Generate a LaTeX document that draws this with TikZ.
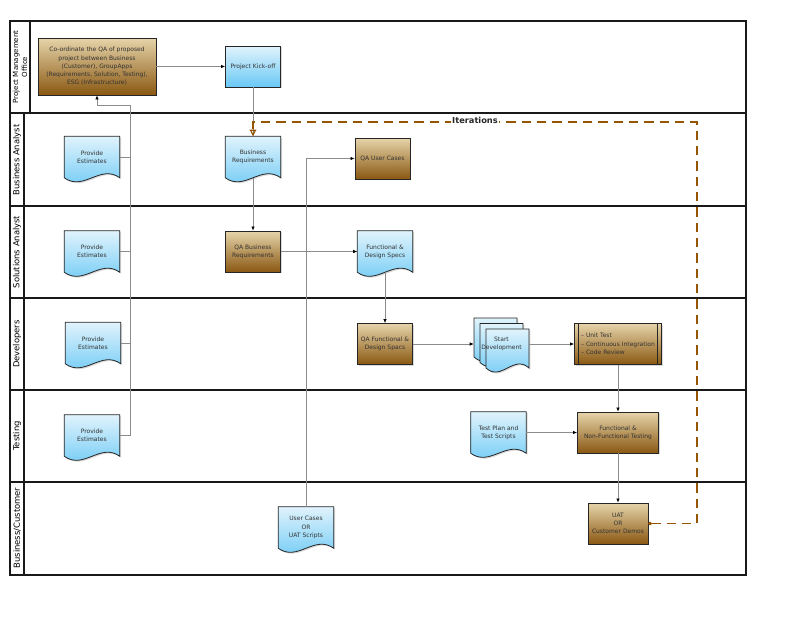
\documentclass[tikz,border=0pt]{standalone}
\usepackage{fontspec}
\setmainfont{DejaVu Sans}
\usepackage{tikz}
\usetikzlibrary{calc,arrows.meta,shadows,backgrounds}
\definecolor{bluetop}{RGB}{224,243,252}
\definecolor{bluebot}{RGB}{105,200,245}
\definecolor{browntop}{RGB}{230,212,170}
\definecolor{brownbot}{RGB}{138,88,18}
\definecolor{iterbrown}{RGB}{150,85,0}
\definecolor{linkc}{RGB}{140,140,140}
\newcommand\docpath[2]{(#1) -- (#1 -| #2) -- (#2)
  .. controls ($(#2)!0.35!(#2 -| #1)+(0,-14)$) and ($(#2)!0.65!(#2 -| #1)+(0,14)$) .. (#2 -| #1) -- cycle}
\tikzset{
  lane/.style={line width=0.9pt,black!90},
  lanelbl/.style={rotate=90,font=\fontsize{6.3}{7.4}\selectfont,align=center,inner sep=0pt},
  txt/.style={font=\fontsize{4.5}{6.2}\selectfont,align=center,inner sep=0pt,text=black!80},
  shade/.style={drop shadow={shadow xshift=1pt,shadow yshift=-1pt,opacity=0.3}},
  task/.style={txt,rectangle,draw=black!85,line width=0.6pt,minimum width=41.25pt,minimum height=30.75pt,
    top color=browntop,bottom color=brownbot,shade},
  bluebox/.style={task,top color=bluetop,bottom color=bluebot},
  doc/.style={txt,rectangle,minimum width=41.25pt,minimum height=30.75pt},
  docfill/.style={draw=black!85,line width=0.6pt,top color=bluetop,bottom color=bluebot,shade},
  link/.style={linkc,line width=0.5pt},
  flow/.style={link,-{Latex[length=3pt,width=2.6pt,black]}},
  iter/.style={iterbrown,line width=0.9pt,dash pattern=on 7pt off 4.5pt,
    {Circle[open,length=2.6pt,width=2.6pt,fill=white]}-{Triangle[open,length=5pt,width=5pt]}},
}

\begin{document}
\begin{tikzpicture}[x=0.75pt,y=-0.75pt]
  \useasboundingbox (0,0) rectangle (800,629);
  \draw[lane] (10,21) rectangle (746,575);
  \foreach \y in {113,206,298,390,482} \draw[lane] (10,\y) -- (746,\y);
  \draw[lane] (30,21) -- (30,113);
  \draw[lane] (24,113) -- (24,575);
  \node[lanelbl,font=\fontsize{5.3}{6.6}\selectfont] (lblPMO) at (20,67) {Project Management\\Office};
  \node[lanelbl] (lblBA) at (17,160) {Business Analyst};
  \node[lanelbl] (lblSA) at (17,252) {Solutions Analyst};
  \node[lanelbl] (lblDev) at (17,344) {Developers};
  \node[lanelbl] (lblTest) at (17,436) {Testing};
  \node[lanelbl] (lblCust) at (17,528) {Business/Customer};

  \node[task,minimum width=88.5pt,minimum height=42.75pt] (coord) at (97,66.5)
    {Co-ordinate the QA of proposed\\project between Business\\(Customer), GroupApps\\(Requirements, Solution, Testing),\\ESG (Infrastructure)};
  \node[bluebox] (kick) at (253,66.5) {Project Kick-off};
  \node[doc] (peBA) at (92,157) {Provide\\Estimates};
  \node[doc] (br) at (253,157) {Business\\Requirements};
  \node[task] (qauc) at (382.5,158.5) {QA User Cases};
  \node[doc] (peSA) at (92,251.5) {Provide\\Estimates};
  \node[task] (qabr) at (253,251.5) {QA Business\\Requirements};
  \node[doc] (fds) at (385,251.5) {Functional \&\\Design Specs};
  \node[doc] (peDev) at (93,343) {Provide\\Estimates};
  \node[task] (qafds) at (385,344) {QA Functional \&\\Design Spacs};
  \node[doc,minimum height=39pt] (sdev) at (501.5,344) {Start\\Development};
  \node[task,minimum width=65.25pt,align=left] (unit) at (618,344) {-- Unit Test\\-- Continuous Integration\\-- Code Review};
  \draw[black!85,line width=0.6pt] ($(unit.north west)+(4.5,0)$) -- ($(unit.south west)+(4.5,0)$)
    ($(unit.north east)+(-5,0)$) -- ($(unit.south east)+(-5,0)$);
  \node[doc] (peT) at (92,435.5) {Provide\\Estimates};
  \node[doc] (tp) at (498.5,432.5) {Test Plan and\\Test Scripts};
  \node[task,minimum width=60.75pt] (fnft) at (618,432.5) {Functional \&\\Non-Functional Testing};
  \node[doc] (uat) at (306,527.5) {User Cases\\OR\\UAT Scripts};
  \node[task,minimum width=45pt] (demo) at (618,523.5) {UAT\\OR\\Customer Demos};

  \coordinate (sdA1) at (474,318); \coordinate (sdA2) at (517,357);
  \coordinate (sdB1) at (480,323.5); \coordinate (sdB2) at (523,362.5);
  \coordinate (sdC1) at (486,329); \coordinate (sdC2) at (529,368);
  \coordinate (jn) at (130,105);
  \coordinate (itercorner) at (697,122);

  \begin{pgfonlayer}{background}
    \foreach \n in {peBA,br,peSA,fds,peDev,peT,tp,uat}
      \path[docfill] \docpath{\n.north west}{\n.south east};
    \path[docfill] \docpath{sdA1}{sdA2};
    \path[docfill] \docpath{sdB1}{sdB2};
    \path[docfill] \docpath{sdC1}{sdC2};
  \end{pgfonlayer}

  \draw[flow] (coord) -- (kick);
  \draw[link] (kick) -- (br);
  \draw[flow] (br) -- (qabr);
  \draw[flow] (qabr) -- (fds);
  \draw[flow] (fds) -- (qafds);
  \draw[flow] (qafds) -- (sdev);
  \draw[flow] (sdev) -- (unit);
  \draw[flow] (unit) -- (fnft);
  \draw[flow] (tp) -- (fnft);
  \draw[flow] (fnft) -- (demo);
  \draw[flow] (uat) |- (qauc);
  \draw[flow] (peT) -| (jn) -| (coord);
  \foreach \n in {peBA,peSA,peDev} \draw[link] (\n) -- (\n -| jn);
  \draw[iter] (demo) -| (itercorner) -| (br);
  \node[fill=white,inner sep=1pt,font=\bfseries\fontsize{6.2}{7}\selectfont,text=black!85] (iterlbl) at (475,120) {Iterations};
\end{tikzpicture}
\end{document}
